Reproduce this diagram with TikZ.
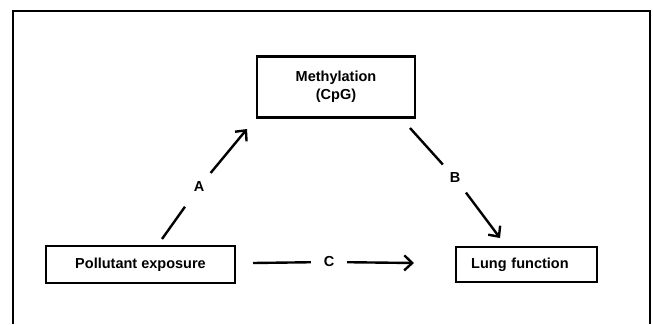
\documentclass[tikz,border=0pt]{standalone}
\usepackage{fontspec}
\setmainfont{Liberation Sans}
\usetikzlibrary{positioning}
\usetikzlibrary{arrows.meta}

\tikzset{
  varbox/.style={draw, line width=2.2pt, inner sep=0pt,
    font=\bfseries\fontsize{14.5}{18}\selectfont},
  pathlabel/.style={circle, inner sep=0pt, minimum size=36pt,
    font=\bfseries\fontsize{14.5}{18}\selectfont},
  link/.style={line width=2.4pt},
  linkarrow/.style={line width=2.4pt, -{Straight Barb[length=8pt,width=15pt]}}
}

\begin{document}
\begin{tikzpicture}[x=1pt, y=-1pt]
  \useasboundingbox (0,0) rectangle (653,324);

  % frame, open at the bottom
  \draw[line width=2.5pt] (13,324) -- (13,11) -- (650,11) -- (650,324);

  % boxes
  \node[varbox, minimum width=158pt, minimum height=61pt, align=center] (meth) at (336,87) {Methylation\\(CpG)};
  \node[varbox, minimum width=189pt, minimum height=37pt] (pol) at (140.5,264.5) {Pollutant exposure};
  \node[varbox, text width=111pt, inner xsep=15pt, minimum height=35pt, align=left, right=219pt of pol] (lung) {Lung function};

  % path labels
  \node[pathlabel] (A) at (199,187) {A};
  \node[pathlabel] (B) at (455,178) {B};
  \node[pathlabel] (C) at (329,262) {C};

  % free ends
  \coordinate (a0) at (162,239);
  \coordinate (a1) at (247,129);
  \coordinate (b0) at (410,128);
  \coordinate (b1) at (500,238);
  \coordinate (c0) at (253,263);
  \coordinate (c1) at (414,263);

  % paths A, B, C
  \draw[link, shorten >=6pt] (a0) -- (A);
  \draw[linkarrow] (A) -- (a1);
  \draw[link] (b0) -- (B);
  \draw[linkarrow] (B) -- (b1);
  \draw[link] (c0) -- (C);
  \draw[linkarrow] (C) -- (c1);
\end{tikzpicture}
\end{document}
